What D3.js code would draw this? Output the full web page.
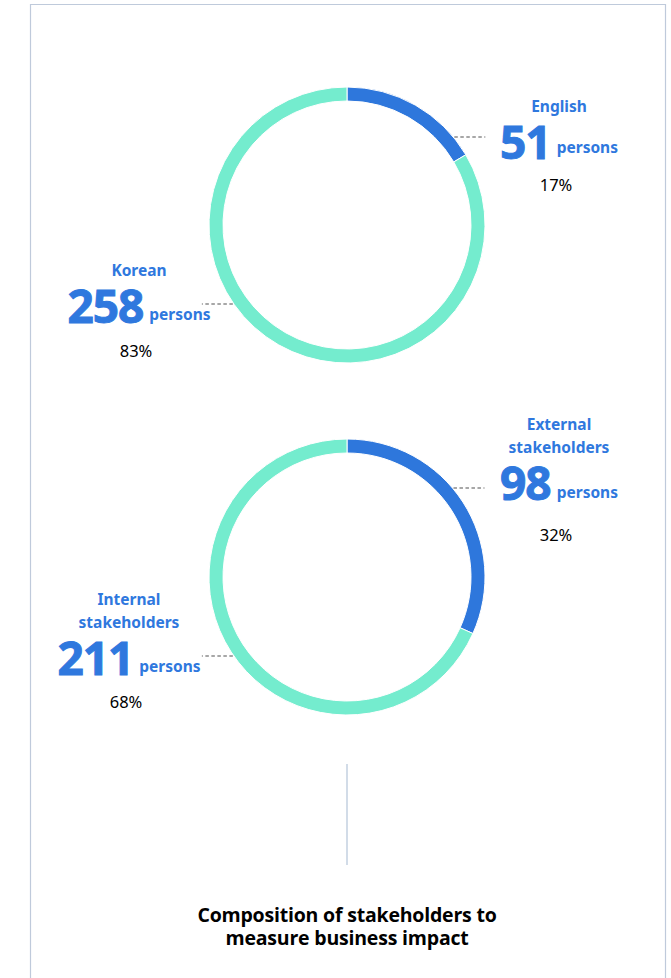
<!DOCTYPE html>
<html>
<head>
<meta charset="utf-8">
<script src="https://cdn.jsdelivr.net/npm/d3@7"></script>
<style>
  html, body { margin: 0; padding: 0; background: #fff; }
  svg { display: block; }
</style>
</head>
<body>
<svg id="chart"></svg>
<script>
// language of respondents
const langCategories = ["English", "Korean"];
const langValues = [51, 258];
const langPercents = ["17%", "83%"];

// stakeholder type
const typeCategories = [["External", "stakeholders"], ["Internal", "stakeholders"]];
const typeValues = [98, 211];
const typePercents = ["32%", "68%"];

const unitLabel = "persons";
const titleLines = ["Composition of stakeholders to", "measure business impact"];
const sliceColors = ["#2e77dc", "#74ecce"];

const width = 671, height = 978;
const blue = "#2f78de";

const svg = d3.select("#chart")
    .attr("width", width)
    .attr("height", height);

// frame (open at the bottom)
svg.append("path")
    .attr("d", "M30.5," + height + "V4.5H665.5V" + height)
    .attr("fill", "none")
    .attr("stroke", "#bfcadb")
    .attr("stroke-width", 1.2);

const outerR = 138, innerR = 124;

const pie = d3.pie().sort(null).value(d => d);
const arc = d3.arc().innerRadius(innerR).outerRadius(outerR);

/**
 * Draws one donut with a label on the right (first slice) and on the left (second slice).
 * labels: [{lines, value, pct, x, numY, pctDy, leaderDy}]
 */
function drawDonut(cx, cy, values, labels) {
    const g = svg.append("g")
        .attr("transform", "translate(" + cx + "," + cy + ")");

    g.selectAll("path.slice")
        .data(pie(values))
        .enter().append("path")
        .attr("class", "slice")
        .attr("d", arc)
        .attr("fill", (d, i) => sliceColors[i])
        .attr("stroke", "#fff")
        .attr("stroke-width", 1);

    labels.forEach((lb, i) => {
        const side = i === 0 ? 1 : -1;
        // dashed leader from the ring outwards
        const ly = lb.leaderDy;
        const edge = Math.sqrt(outerR * outerR - ly * ly);
        g.append("line")
            .attr("x1", side * (edge + 1))
            .attr("x2", side * (edge + 32))
            .attr("y1", ly)
            .attr("y2", ly)
            .attr("stroke", "#8a8a8a")
            .attr("stroke-width", 1.4)
            .attr("stroke-dasharray", "3.5,2.5");

        const lx = lb.x - cx;
        const ny = lb.numY - cy;

        // category text
        lb.lines.slice().reverse().forEach((t, k) => {
            g.append("text")
                .attr("x", lx)
                .attr("y", ny - 47 - k * 23)
                .attr("text-anchor", "middle")
                .style("font-family", "'Noto Sans', sans-serif")
                .style("font-weight", "bold")
                .style("font-size", "15.5px")
                .style("fill", blue)
                .text(t);
        });

        // value + unit
        const row = g.append("text")
            .attr("x", lx)
            .attr("y", ny)
            .attr("text-anchor", "middle")
            .style("font-family", "'Noto Sans', sans-serif")
            .style("font-weight", "bold")
            .style("fill", blue);
        row.append("tspan")
            .style("font-size", "46px")
            .style("letter-spacing", "-1px")
            .style("stroke", blue)
            .style("stroke-width", 1)
            .text(lb.value);
        row.append("tspan")
            .attr("dx", 6)
            .attr("dy", lb.unitDy)
            .style("font-size", "15.5px")
            .text(unitLabel);

        g.append("text")
            .attr("x", lx - 3)
            .attr("y", ny + lb.pctDy)
            .attr("text-anchor", "middle")
            .style("font-family", "'Noto Sans', sans-serif")
            .style("font-size", "16.5px")
            .style("fill", "#000")
            .text(lb.pct);
    });
}

drawDonut(347, 225, langValues, [
    {lines: [langCategories[0]], value: langValues[0], pct: langPercents[0], x: 559, numY: 159, unitDy: -6, pctDy: 32, leaderDy: -88},
    {lines: [langCategories[1]], value: langValues[1], pct: langPercents[1], x: 139, numY: 323, unitDy: -3, pctDy: 34, leaderDy: 79}
]);

drawDonut(347, 577, typeValues, [
    {lines: typeCategories[0], value: typeValues[0], pct: typePercents[0], x: 559, numY: 500, unitDy: -2, pctDy: 41, leaderDy: -89},
    {lines: typeCategories[1], value: typeValues[1], pct: typePercents[1], x: 129, numY: 675, unitDy: -3, pctDy: 33, leaderDy: 79}
]);

// divider
svg.append("line")
    .attr("x1", 347).attr("x2", 347)
    .attr("y1", 764).attr("y2", 865)
    .attr("stroke", "#c3d0e0")
    .attr("stroke-width", 1.5);

// title
svg.selectAll("text.title")
    .data(titleLines)
    .enter().append("text")
    .attr("class", "title")
    .attr("x", 347)
    .attr("y", (d, i) => 922 + i * 23)
    .attr("text-anchor", "middle")
    .style("font-family", "'Open Sans', sans-serif")
    .style("font-weight", "bold")
    .style("font-size", "19.5px")
    .style("letter-spacing", "-0.2px")
    .style("fill", "#000")
    .text(d => d);
</script>
</body>
</html>
